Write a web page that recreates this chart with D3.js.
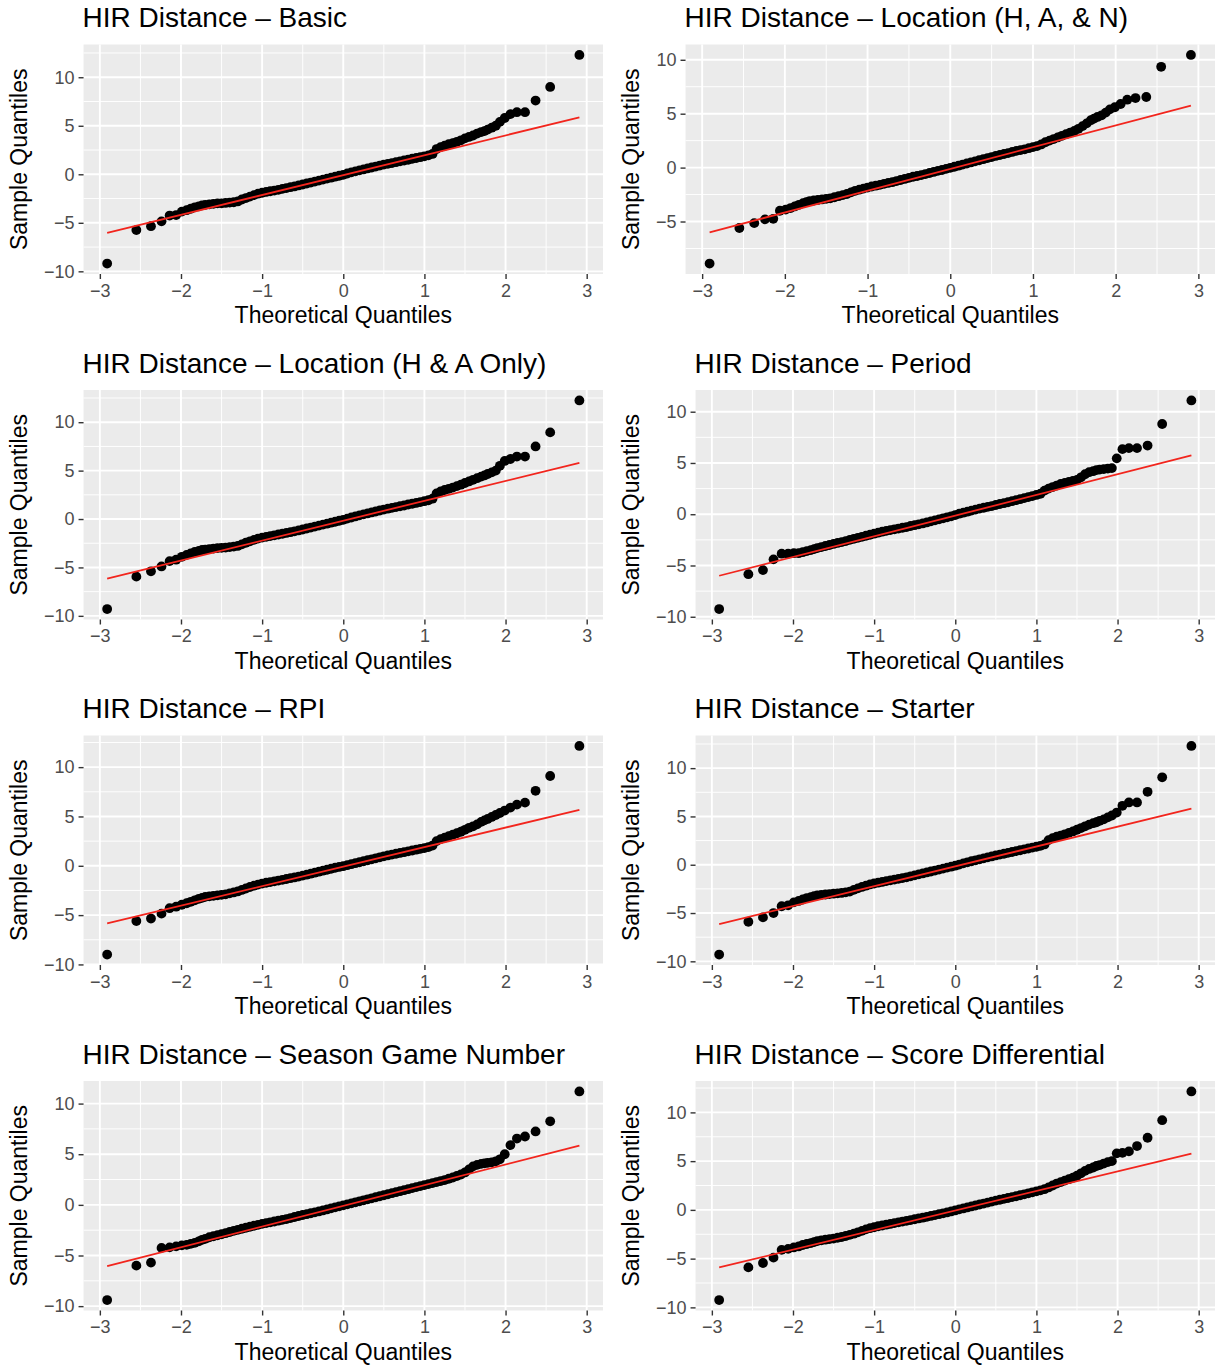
<!DOCTYPE html>
<html>
<head>
<meta charset="utf-8">
<script src="https://cdn.jsdelivr.net/npm/d3@7"></script>
<style>
  body { margin: 0; background: #fff; }
  text { font-family: "Liberation Sans", Arial, Helvetica, sans-serif; }
</style>
</head>
<body>
<svg id="chart" width="1215" height="1369"></svg>
<script>
// Theoretical quantiles shared by every panel (same sample size in all models)
const theoretical = [
  -2.91, -2.55, -2.37, -2.24, -2.14, -2.06, -1.99, -1.93, -1.88, -1.83, -1.78, -1.74, -1.70,
  -1.65, -1.60, -1.55, -1.50, -1.45, -1.40, -1.35, -1.30, -1.25, -1.20, -1.15, -1.10, -1.05,
  -1.00, -0.95, -0.90, -0.85, -0.80, -0.75, -0.70, -0.65, -0.60, -0.55, -0.50, -0.45, -0.40,
  -0.35, -0.30, -0.25, -0.20, -0.15, -0.10, -0.05, 0.00, 0.05, 0.10, 0.15, 0.20, 0.25, 0.30,
  0.35, 0.40, 0.45, 0.50, 0.55, 0.60, 0.65, 0.70, 0.75, 0.80, 0.85, 0.90, 0.95, 1.00, 1.05,
  1.10, 1.15, 1.20, 1.25, 1.30, 1.35, 1.40, 1.45, 1.50, 1.55, 1.60, 1.65,
  1.70, 1.74, 1.78, 1.83, 1.88, 1.93, 1.99, 2.06, 2.14, 2.24, 2.37, 2.55, 2.91
];

const titles = [
  'HIR Distance \u2013 Basic',
  'HIR Distance \u2013 Location (H, A, & N)',
  'HIR Distance \u2013 Location (H & A Only)',
  'HIR Distance \u2013 Period',
  'HIR Distance \u2013 RPI',
  'HIR Distance \u2013 Starter',
  'HIR Distance \u2013 Season Game Number',
  'HIR Distance \u2013 Score Differential'
];

// Sample quantiles (residuals), one value per theoretical quantile
const basic = [
  -9.2, -5.75, -5.35, -4.85, -4.25, -4.2, -3.85, -3.7, -3.55, -3.4, -3.3, -3.2, -3.15,
  -3.1, -3.05, -3.0, -3.0, -2.95, -2.92, -2.88, -2.8, -2.6, -2.45, -2.3, -2.15, -2.0, -1.9,
  -1.82, -1.75, -1.68, -1.6, -1.5, -1.42, -1.33, -1.25, -1.15, -1.05, -0.95, -0.85, -0.75,
  -0.65, -0.55, -0.45, -0.35, -0.25, -0.15, -0.05, 0.08, 0.2, 0.3, 0.4, 0.5, 0.6, 0.7, 0.8,
  0.9, 1.0, 1.08, 1.16, 1.25, 1.33, 1.42, 1.5, 1.6, 1.68, 1.76, 1.85, 1.95, 2.1, 2.6, 2.8,
  2.95, 3.1, 3.2, 3.35, 3.5, 3.7, 3.85, 4.0, 4.2,
  4.35, 4.45, 4.6, 4.8, 5.0, 5.4, 5.8, 6.2, 6.4, 6.4, 7.6, 9.0, 12.3
];
const locationHAN = [
  -8.9, -5.6, -5.15, -4.8, -4.75, -4.0, -3.9, -3.75, -3.6, -3.45, -3.3, -3.2, -3.1,
  -3.05, -3.0, -2.95, -2.9, -2.85, -2.75, -2.65, -2.55, -2.45, -2.3, -2.15, -2.05, -1.95,
  -1.85, -1.75, -1.68, -1.6, -1.5, -1.42, -1.35, -1.25, -1.15, -1.05, -0.95, -0.85, -0.78,
  -0.7, -0.6, -0.5, -0.4, -0.3, -0.22, -0.12, -0.02, 0.08, 0.18, 0.28, 0.38, 0.48, 0.58,
  0.68, 0.78, 0.88, 0.98, 1.08, 1.17, 1.26, 1.35, 1.45, 1.55, 1.62, 1.7, 1.8, 1.9, 2.0,
  2.15, 2.35, 2.5, 2.65, 2.8, 2.95, 3.1, 3.25, 3.4, 3.6, 3.85, 4.1,
  4.4, 4.55, 4.7, 4.85, 5.1, 5.4, 5.6, 5.9, 6.3, 6.45, 6.55, 9.35, 10.45
];
const locationHA = [
  -9.3, -5.95, -5.4, -4.9, -4.35, -4.2, -3.9, -3.7, -3.55, -3.4, -3.3, -3.2, -3.15,
  -3.1, -3.05, -3.0, -2.98, -2.95, -2.9, -2.85, -2.78, -2.62, -2.45, -2.3, -2.15, -2.02,
  -1.92, -1.84, -1.76, -1.68, -1.6, -1.52, -1.44, -1.36, -1.27, -1.18, -1.08, -0.98, -0.88,
  -0.78, -0.68, -0.58, -0.48, -0.38, -0.28, -0.18, -0.08, 0.04, 0.16, 0.27, 0.38, 0.48,
  0.58, 0.68, 0.78, 0.88, 0.98, 1.07, 1.15, 1.24, 1.32, 1.4, 1.5, 1.58, 1.66, 1.75, 1.84,
  1.94, 2.1, 2.65, 2.85, 3.0, 3.12, 3.25, 3.4, 3.55, 3.72, 3.88, 4.05, 4.22,
  4.38, 4.5, 4.65, 4.82, 5.0, 5.5, 6.0, 6.2, 6.45, 6.45, 7.5, 8.95, 12.25
];
const period = [
  -9.25, -5.85, -5.45, -4.4, -3.85, -3.85, -3.8, -3.8, -3.7, -3.6, -3.5, -3.4, -3.3,
  -3.2, -3.1, -3.0, -2.9, -2.8, -2.72, -2.62, -2.5, -2.4, -2.3, -2.2, -2.1, -2.0, -1.9,
  -1.8, -1.7, -1.62, -1.55, -1.47, -1.4, -1.32, -1.25, -1.15, -1.07, -0.98, -0.9, -0.8,
  -0.7, -0.6, -0.5, -0.4, -0.3, -0.2, -0.08, 0.05, 0.15, 0.25, 0.35, 0.45, 0.55, 0.63,
  0.72, 0.8, 0.9, 1.0, 1.08, 1.17, 1.27, 1.37, 1.47, 1.57, 1.67, 1.77, 1.88, 2.0, 2.3,
  2.5, 2.65, 2.8, 2.95, 3.05, 3.15, 3.25, 3.35, 3.6, 3.9, 4.1,
  4.2, 4.3, 4.35, 4.4, 4.45, 4.5, 5.45, 6.35, 6.45, 6.45, 6.7, 8.8, 11.1
];
const rpi = [
  -9.0, -5.6, -5.35, -4.85, -4.3, -4.15, -3.95, -3.8, -3.65, -3.5, -3.35, -3.25, -3.15,
  -3.1, -3.05, -3.0, -2.95, -2.9, -2.8, -2.7, -2.6, -2.45, -2.3, -2.15, -2.02, -1.9, -1.8,
  -1.72, -1.65, -1.58, -1.5, -1.42, -1.34, -1.26, -1.18, -1.1, -1.0, -0.9, -0.8, -0.7,
  -0.6, -0.5, -0.4, -0.3, -0.2, -0.12, -0.04, 0.06, 0.16, 0.26, 0.36, 0.46, 0.56, 0.66,
  0.76, 0.86, 0.96, 1.05, 1.13, 1.22, 1.3, 1.38, 1.46, 1.55, 1.63, 1.72, 1.8, 1.9, 2.05,
  2.5, 2.7, 2.85, 3.0, 3.15, 3.3, 3.45, 3.65, 3.85, 4.0, 4.2,
  4.45, 4.6, 4.75, 4.95, 5.15, 5.35, 5.6, 5.9, 6.2, 6.4, 7.6, 9.1, 12.15
];
const starter = [
  -9.3, -5.9, -5.45, -5.0, -4.3, -4.2, -3.9, -3.75, -3.6, -3.45, -3.35, -3.25, -3.18,
  -3.12, -3.08, -3.04, -3.0, -2.96, -2.92, -2.86, -2.78, -2.6, -2.45, -2.3, -2.17, -2.04,
  -1.94, -1.86, -1.78, -1.7, -1.62, -1.54, -1.46, -1.38, -1.3, -1.2, -1.1, -1.0, -0.9,
  -0.8, -0.7, -0.6, -0.5, -0.4, -0.3, -0.2, -0.1, 0.02, 0.14, 0.25, 0.36, 0.46, 0.56,
  0.66, 0.76, 0.86, 0.96, 1.05, 1.14, 1.23, 1.32, 1.41, 1.5, 1.59, 1.68, 1.77, 1.86, 1.96,
  2.1, 2.55, 2.75, 2.9, 3.02, 3.15, 3.3, 3.45, 3.62, 3.8, 3.98, 4.15,
  4.3, 4.4, 4.55, 4.7, 4.9, 5.1, 5.4, 6.1, 6.45, 6.45, 7.55, 9.05, 12.3
];
const seasonGame = [
  -9.4, -6.0, -5.7, -4.25, -4.2, -4.1, -4.0, -3.95, -3.85, -3.75, -3.6, -3.45, -3.35,
  -3.2, -3.1, -3.0, -2.9, -2.8, -2.68, -2.56, -2.46, -2.36, -2.26, -2.16, -2.06, -1.97,
  -1.88, -1.8, -1.72, -1.64, -1.56, -1.48, -1.4, -1.3, -1.2, -1.1, -1.0, -0.92, -0.83,
  -0.74, -0.65, -0.55, -0.45, -0.35, -0.25, -0.15, -0.05, 0.05, 0.15, 0.25, 0.35, 0.45,
  0.55, 0.65, 0.75, 0.85, 0.95, 1.05, 1.15, 1.25, 1.35, 1.45, 1.55, 1.65, 1.75, 1.85, 1.95,
  2.05, 2.15, 2.25, 2.35, 2.45, 2.58, 2.7, 2.85, 3.0, 3.2, 3.5, 3.8, 3.95,
  4.05, 4.1, 4.15, 4.2, 4.3, 4.5, 5.0, 5.9, 6.55, 6.75, 7.25, 8.25, 11.2
];
const scoreDiff = [
  -9.25, -5.9, -5.45, -4.9, -4.1, -4.0, -3.85, -3.75, -3.6, -3.5, -3.4, -3.3, -3.2,
  -3.12, -3.06, -3.0, -2.94, -2.86, -2.78, -2.68, -2.56, -2.44, -2.3, -2.15, -2.0, -1.88,
  -1.78, -1.68, -1.6, -1.52, -1.44, -1.36, -1.28, -1.2, -1.12, -1.04, -0.96, -0.88, -0.8,
  -0.71, -0.62, -0.53, -0.44, -0.35, -0.26, -0.16, -0.06, 0.05, 0.15, 0.25, 0.35, 0.45,
  0.55, 0.65, 0.75, 0.85, 0.95, 1.04, 1.13, 1.22, 1.31, 1.4, 1.5, 1.6, 1.7, 1.8, 1.9,
  2.0, 2.12, 2.3, 2.5, 2.7, 2.85, 3.0, 3.15, 3.3, 3.5, 3.75, 4.0, 4.2,
  4.35, 4.5, 4.6, 4.75, 4.9, 5.0, 5.8, 5.85, 6.0, 6.55, 7.4, 9.2, 12.15
];

// Reference (qq) line: sample value at the lowest and highest theoretical quantile
const qqLines = [
  [-6.04, 5.87], [-6.0, 5.75], [-6.15, 5.8], [-6.0, 5.73],
  [-5.85, 5.68], [-6.15, 5.82], [-6.05, 5.85], [-5.9, 5.77]
];

const samples = [basic, locationHAN, locationHA, period, rpi, starter, seasonGame, scoreDiff];

const svg = d3.select('#chart');
const colX = [0, 612];
const rowY = [0, 345.5, 691, 1036.5];
const tickFont = 18;
const fmt = d => d < 0 ? '\u2212' + Math.abs(d) : String(d);

// expand a domain by 5% on both sides, like ggplot
function expand(ext) {
  const pad = (ext[1] - ext[0]) * 0.05;
  return [ext[0] - pad, ext[1] + pad];
}
function minorBreaks(major, step, dom) {
  const ext = [major[0] - step].concat(major, [major[major.length - 1] + step]);
  return ext.slice(1).map(v => v - step / 2).filter(v => v >= dom[0] && v <= dom[1]);
}

samples.forEach((sample, i) => {
  const cx = colX[i % 2];
  const cy = rowY[Math.floor(i / 2)];
  const data = theoretical.map((t, k) => ({ t: t, s: sample[k] }));

  const xDom = expand(d3.extent(theoretical));
  const yDom = expand(d3.extent(sample.concat(qqLines[i])));
  const xMajor = d3.range(Math.ceil(xDom[0]), Math.floor(xDom[1]) + 1, 1);
  const yMajor = d3.range(Math.ceil(yDom[0] / 5) * 5, yDom[1] + 1e-9, 5);

  const g = svg.append('g');

  // measure the widest y tick label to place the panel
  const probe = g.append('text').style('font-size', tickFont + 'px');
  let maxW = 0;
  yMajor.forEach(v => {
    probe.text(fmt(v));
    maxW = Math.max(maxW, probe.node().getComputedTextLength());
  });
  probe.remove();

  const left = cx + 44 + maxW + 9;
  const right = cx + 603;
  const top = cy + 44.5;
  const bottom = cy + 274;

  const x = d3.scaleLinear().domain(xDom).range([left, right]);
  const y = d3.scaleLinear().domain(yDom).range([bottom, top]);

  // panel background
  g.append('rect')
    .attr('x', left).attr('y', top)
    .attr('width', right - left).attr('height', bottom - top)
    .attr('fill', '#EBEBEB');

  // minor grid
  g.append('g').selectAll('line').data(minorBreaks(xMajor, 1, xDom)).join('line')
    .attr('x1', d => x(d)).attr('x2', d => x(d)).attr('y1', top).attr('y2', bottom)
    .attr('stroke', '#fff').attr('stroke-width', 0.95);
  g.append('g').selectAll('line').data(minorBreaks(yMajor, 5, yDom)).join('line')
    .attr('y1', d => y(d)).attr('y2', d => y(d)).attr('x1', left).attr('x2', right)
    .attr('stroke', '#fff').attr('stroke-width', 0.95);

  // major grid
  g.append('g').selectAll('line').data(xMajor).join('line')
    .attr('x1', d => x(d)).attr('x2', d => x(d)).attr('y1', top).attr('y2', bottom)
    .attr('stroke', '#fff').attr('stroke-width', 1.9);
  g.append('g').selectAll('line').data(yMajor).join('line')
    .attr('y1', d => y(d)).attr('y2', d => y(d)).attr('x1', left).attr('x2', right)
    .attr('stroke', '#fff').attr('stroke-width', 1.9);

  // points
  g.append('g').selectAll('circle').data(data).join('circle')
    .attr('cx', d => x(d.t))
    .attr('cy', d => y(d.s))
    .attr('r', 4.9)
    .attr('fill', '#000');

  // qq line
  const line = d3.line().x(d => x(d[0])).y(d => y(d[1]));
  g.append('path')
    .datum([[theoretical[0], qqLines[i][0]], [theoretical[theoretical.length - 1], qqLines[i][1]]])
    .attr('d', line)
    .attr('fill', 'none')
    .attr('stroke', '#f2251d')
    .attr('stroke-width', 1.8);

  // axes
  const xAxis = g.append('g')
    .attr('transform', `translate(0,${bottom})`)
    .call(d3.axisBottom(x).tickValues(xMajor).tickFormat(fmt).tickSize(5).tickPadding(5));
  const yAxis = g.append('g')
    .attr('transform', `translate(${left},0)`)
    .call(d3.axisLeft(y).tickValues(yMajor).tickFormat(fmt).tickSize(5).tickPadding(4));
  [xAxis, yAxis].forEach(a => {
    a.select('.domain').remove();
    a.selectAll('line').attr('stroke', '#333').attr('stroke-width', 1.4);
    a.selectAll('text')
      .attr('fill', '#4D4D4D')
      .style('font-size', tickFont + 'px')
      .style('font-family', '"Liberation Sans", Arial, sans-serif');
  });

  // titles
  g.append('text')
    .attr('x', left - 1)
    .attr('y', cy + 27)
    .style('font-size', '28px')
    .attr('fill', '#000')
    .text(titles[i]);

  g.append('text')
    .attr('x', (left + right) / 2)
    .attr('y', cy + 323)
    .attr('text-anchor', 'middle')
    .style('font-size', '23px')
    .attr('fill', '#000')
    .text('Theoretical Quantiles');

  g.append('text')
    .attr('transform', `translate(${cx + 19},${(top + bottom) / 2}) rotate(-90)`)
    .attr('text-anchor', 'middle')
    .attr('dy', '0.35em')
    .style('font-size', '23px')
    .attr('fill', '#000')
    .text('Sample Quantiles');
});
</script>
</body>
</html>
